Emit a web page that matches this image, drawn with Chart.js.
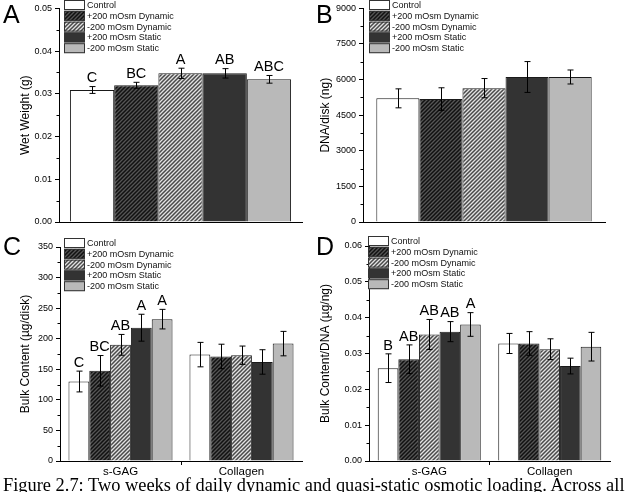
<!DOCTYPE html>
<html>
<head>
<meta charset="utf-8">
<script src="https://cdn.jsdelivr.net/npm/chart.js@4.4.0/dist/chart.umd.min.js"></script>
<style>
  body { margin: 0; background: #fff; width: 627px; height: 492px; overflow: hidden; position: relative; }
  canvas { position: absolute; }
  #cap { position: absolute; left: 3px; top: 476px; font-family: "Liberation Serif", "Times New Roman", serif;
         font-size: 19px; line-height: 1; white-space: nowrap; color: #000; }
</style>
</head>
<body>
<canvas id="pa" width="313" height="236" style="left:0;top:0"></canvas>
<canvas id="pb" width="314" height="236" style="left:313px;top:0"></canvas>
<canvas id="pc" width="313" height="256" style="left:0;top:236px"></canvas>
<canvas id="pd" width="314" height="256" style="left:313px;top:236px"></canvas>
<div id="cap">Figure 2.7: Two weeks of daily dynamic and quasi-static osmotic loading. Across all</div>
<script>
var groups = ['Control', '+200 mOsm Dynamic', '-200 mOsm Dynamic', '+200 mOsm Static', '-200 mOsm Static'];
var matrix = ['s-GAG', 'Collagen'];

// A - wet weight (g)
var wetWeight    = [0.0309, 0.0320, 0.0348, 0.0348, 0.0334];
var wetWeightErr = [0.0008, 0.0007, 0.0012, 0.0011, 0.0009];
var wetWeightSig = ['C', 'BC', 'A', 'AB', 'ABC'];
var wetTicks     = [0, 0.01, 0.02, 0.03, 0.04, 0.05];

// B - DNA per disk (ng)
var dnaDisk    = [5210, 5180, 5640, 6110, 6110];
var dnaDiskErr = [400, 475, 405, 650, 295];
var dnaTicks   = [0, 1500, 3000, 4500, 6000, 7500, 9000];

// C - bulk content (ug/disk)
var bulkGag       = [130, 147.5, 190, 218, 232];
var bulkGagErr    = [17, 25, 17, 22, 16];
var bulkGagSig    = ['C', 'BC', 'AB', 'A', 'A'];
var bulkCol       = [174, 171, 173, 162, 192];
var bulkColErr    = [20, 20, 15, 20, 20];
var bulkTicks     = [0, 50, 100, 150, 200, 250, 300, 350];

// D - bulk content / DNA (ug/ng)
var normGag    = [0.0259, 0.0284, 0.0353, 0.0361, 0.0381];
var normGagErr = [0.0040, 0.0040, 0.0042, 0.0028, 0.0033];
var normGagSig = ['B', 'AB', 'AB', 'AB', 'A'];
var normCol    = [0.0328, 0.0328, 0.0312, 0.0265, 0.0319];
var normColErr = [0.0028, 0.0033, 0.0029, 0.0022, 0.0040];
var normTicks  = [0, 0.01, 0.02, 0.03, 0.04, 0.05, 0.06];

var FONT = '"Liberation Sans", Arial, sans-serif';

function hatch(bg, fg) {
  var c = document.createElement('canvas');
  c.width = c.height = 4;
  var x = c.getContext('2d');
  x.fillStyle = bg; x.fillRect(0, 0, 4, 4);
  x.strokeStyle = fg; x.lineWidth = 1.5;
  x.beginPath();
  x.moveTo(-1, 5); x.lineTo(5, -1);
  x.moveTo(-1, 1); x.lineTo(1, -1);
  x.moveTo(3, 5); x.lineTo(5, 3);
  x.stroke();
  return x.createPattern(c, 'repeat');
}

var fills = ['#ffffff', hatch('#555555', '#111111'), hatch('#e2e2e2', '#4a4a4a'), '#333333', '#b9b9b9'];

function panel(id, o) {
  var cv = document.getElementById(id);
  var W = cv.width, H = cv.height;

  var extras = {
    id: 'extras',
    afterDatasetsDraw: function(chart) {
      var ctx = chart.ctx, ys = chart.scales.y;
      ctx.save();
      ctx.strokeStyle = '#000'; ctx.lineWidth = 1;
      ctx.fillStyle = '#000';
      ctx.font = '14.5px ' + FONT;
      ctx.textAlign = 'center'; ctx.textBaseline = 'bottom';
      chart.data.datasets.forEach(function(ds, i) {
        chart.getDatasetMeta(i).data.forEach(function(el, j) {
          var v = ds.data[j], e = ds.errors[j];
          var x = Math.round(el.x) + 0.5;
          var y1 = ys.getPixelForValue(v + e), y2 = ys.getPixelForValue(v - e);
          ctx.beginPath();
          ctx.moveTo(x, y1); ctx.lineTo(x, y2);
          ctx.moveTo(x - 3, y1); ctx.lineTo(x + 3, y1);
          ctx.moveTo(x - 3, y2); ctx.lineTo(x + 3, y2);
          ctx.stroke();
          if (ds.sig[j]) ctx.fillText(ds.sig[j], el.x, y1 - 1);
        });
      });
      ctx.restore();
    },
    afterDraw: function(chart) {
      var ctx = chart.ctx, ys = chart.scales.y, left = chart.chartArea.left;
      ctx.save();
      // minor ticks
      ctx.strokeStyle = '#000'; ctx.lineWidth = 1;
      ctx.beginPath();
      for (var k = 0; k < o.ticks.length - 1; k++) {
        var y = Math.round(ys.getPixelForValue((o.ticks[k] + o.ticks[k + 1]) / 2)) + 0.5;
        ctx.moveTo(left - 2.5, y); ctx.lineTo(left, y);
      }
      ctx.stroke();
      // legend
      ctx.font = '9px ' + FONT;
      ctx.textAlign = 'left'; ctx.textBaseline = 'middle';
      groups.forEach(function(g, i) {
        var y = o.ly + i * 10.8;
        ctx.fillStyle = fills[i];
        ctx.fillRect(o.lx, y, 21, 10);
        ctx.strokeStyle = '#333';
        ctx.strokeRect(o.lx + 0.5, y + 0.5, 20, 9);
        ctx.fillStyle = '#111';
        ctx.fillText(g, o.lx + 23, y + 5.5);
      });
      // panel letter
      ctx.font = '25px ' + FONT;
      ctx.textBaseline = 'alphabetic';
      ctx.fillStyle = '#000';
      ctx.fillText(o.letter, 3, o.letterY);
      ctx.restore();
    }
  };

  return new Chart(cv, {
    type: 'bar',
    data: {
      labels: o.labels,
      datasets: groups.map(function(g, i) {
        return {
          label: g,
          data: o.values.map(function(v) { return v[i]; }),
          errors: o.errors.map(function(v) { return v[i]; }),
          sig: o.sig.map(function(v) { return v ? v[i] : ''; }),
          backgroundColor: fills[i],
          borderColor: '#1a1a1a',
          borderWidth: 1,
          categoryPercentage: o.cat,
          barPercentage: 1
        };
      })
    },
    options: {
      responsive: false,
      animation: false,
      devicePixelRatio: 1,
      layout: { padding: { top: o.top, right: W - o.right, left: 0, bottom: 0 } },
      plugins: { legend: { display: false }, tooltip: { enabled: false } },
      scales: {
        x: {
          afterFit: function(s) { s.height = H - o.bottom; },
          border: { display: true, color: '#000', width: 1 },
          grid: {
            display: o.labels.length > 1, offset: true, drawOnChartArea: false, tickLength: 4,
            color: function(c) { return c.index === 1 ? '#000' : 'rgba(0,0,0,0)'; }
          },
          ticks: { display: o.labels.length > 1, color: '#000', font: { family: FONT, size: 11.5 }, padding: 0 }
        },
        y: {
          min: o.ticks[0], max: o.ticks[o.ticks.length - 1],
          afterBuildTicks: function(s) { s.ticks = o.ticks.map(function(v) { return { value: v }; }); },
          afterFit: function(s) { s.width = o.left; },
          border: { display: true, color: '#000', width: 1 },
          grid: { display: true, drawOnChartArea: false, tickLength: 4, color: '#000' },
          ticks: {
            color: '#000', font: { family: FONT, size: 9 }, padding: 3,
            callback: function(v) { return v.toFixed(o.dec); }
          },
          title: {
            display: true, text: o.title, color: '#000',
            font: { family: FONT, size: 12 }, padding: { top: o.titlePad, bottom: 0 }
          }
        }
      }
    },
    plugins: [extras]
  });
}

panel('pa', {
  labels: [''], values: [wetWeight], errors: [wetWeightErr], sig: [wetWeightSig],
  ticks: wetTicks, dec: 2, title: 'Wet Weight (g)', titlePad: 18,
  left: 59, top: 8, right: 302, bottom: 222, cat: 0.91,
  lx: 64, ly: 0, letter: 'A', letterY: 23
});
panel('pb', {
  labels: [''], values: [dnaDisk], errors: [dnaDiskErr], sig: [null],
  ticks: dnaTicks, dec: 0, title: 'DNA/disk (ng)', titlePad: 5,
  left: 50, top: 7, right: 292, bottom: 222, cat: 0.89,
  lx: 56, ly: 0, letter: 'B', letterY: 23
});
panel('pc', {
  labels: matrix, values: [bulkGag, bulkCol], errors: [bulkGagErr, bulkColErr], sig: [bulkGagSig, null],
  ticks: bulkTicks, dec: 0, title: 'Bulk Content (\u00b5g/disk)', titlePad: 18,
  left: 60, top: 11, right: 302, bottom: 225, cat: 0.86,
  lx: 64, ly: 2, letter: 'C', letterY: 19
});
panel('pd', {
  labels: matrix, values: [normGag, normCol], errors: [normGagErr, normColErr], sig: [normGagSig, null],
  ticks: normTicks, dec: 2, title: 'Bulk Content/DNA (\u00b5g/ng)', titlePad: 5,
  left: 56, top: 10, right: 297, bottom: 225, cat: 0.855,
  lx: 55, ly: 0, letter: 'D', letterY: 19
});

// stretch caption to the width it has in the figure
var cap = document.getElementById('cap');
var w = cap.getBoundingClientRect().width;
cap.style.fontSize = (19 * 622 / w).toFixed(2) + 'px';
</script>
</body>
</html>
